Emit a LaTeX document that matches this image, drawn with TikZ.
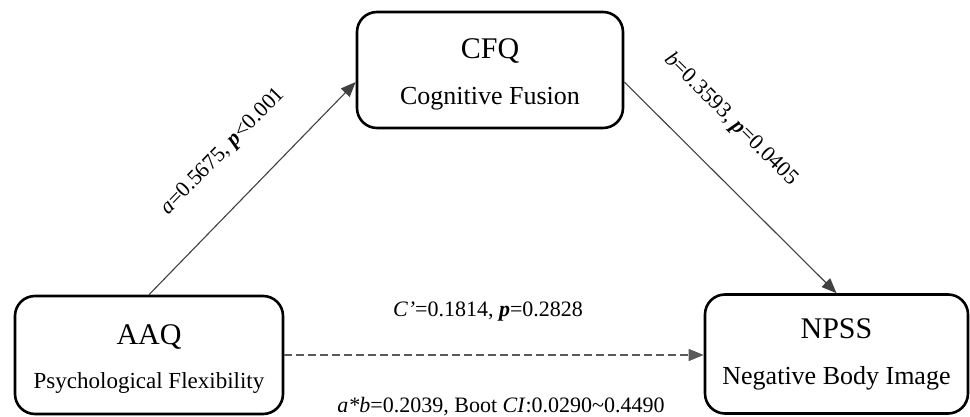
\documentclass[tikz,border=0pt]{standalone}
\usepackage{fontspec}
\setmainfont{Liberation Serif}
\usepackage{tikz}
\usetikzlibrary{arrows.meta}

\tikzset{
  varbox/.style={draw, line width=2.6pt, rounded corners=20pt, align=center,
    font=\fontsize{26}{30}\selectfont},
  coef/.style={font=\fontsize{22}{26}\selectfont, inner sep=2pt},
  >={Triangle[length=15pt,width=12pt]}
}

\begin{document}
\begin{tikzpicture}[x=1pt, y=1pt]
  \useasboundingbox (0,0) rectangle (970,417);
  \node[varbox, minimum width=266pt, minimum height=116pt] (cfq) at (490,347)
    {\rule{0pt}{28pt}{\fontsize{30}{34}\selectfont CFQ}\\[16pt]Cognitive Fusion};
  \node[varbox, minimum width=268pt, minimum height=118pt] (aaq) at (149,62)
    {\rule{0pt}{28pt}{\fontsize{30}{34}\selectfont AAQ}\\[14pt]{\fontsize{23}{30}\selectfont Psychological Flexibility}};
  \node[varbox, minimum width=263pt, minimum height=119pt] (npss) at (836.5,63)
    {{\fontsize{30}{34}\selectfont NPSS}\\[16pt]Negative Body Image};
  \draw[line width=1.1pt, black!75, ->] (aaq.north) -- ([yshift=-12pt]cfq.west)
    node[coef, black, pos=0.52, sloped, above=34pt] {\textit{a}=0.5675, \textbf{\textit{p}}<0.001};
  \draw[line width=1.1pt, black!75, ->] ([yshift=-12pt]cfq.east) -- (npss.north)
    node[coef, black, pos=0.34, sloped, above=36pt] {\textit{b}=0.3593, \textbf{\textit{p}}=0.0405};
  \draw[line width=1.1pt, black!65, dash pattern=on 8pt off 4pt, ->] (aaq.east) -- (aaq.east -| npss.west)
    node[coef, black, midway, above=31pt, xshift=-6pt] {\textit{C’}=0.1814, \textbf{\textit{p}}=0.2828}
    node[coef, black, midway, below=40pt, xshift=7pt] {\textit{a*b}=0.2039, Boot \textit{CI}:0.0290\textasciitilde0.4490};
\end{tikzpicture}
\end{document}
